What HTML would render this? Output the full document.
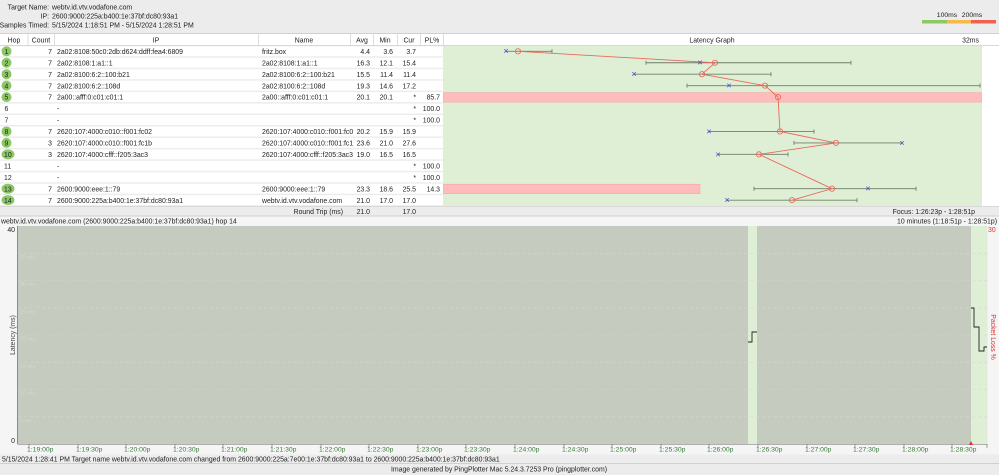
<!DOCTYPE html>
<html><head><meta charset="utf-8"><style>
html,body{margin:0;padding:0;background:#ececec;}
svg{display:block;font-family:"Liberation Sans",sans-serif;}
</style></head><body>
<svg width="999" height="475" viewBox="0 0 999 475" xmlns="http://www.w3.org/2000/svg" font-size="6.9" fill="#222">
<rect width="999" height="475" fill="#ececec"/>
<!-- header -->
<text x="49" y="9.5" text-anchor="end">Target Name:</text><text x="52" y="9.5">webtv.id.vtv.vodafone.com</text>
<text x="49" y="18.5" text-anchor="end">IP:</text><text x="52" y="18.5">2600:9000:225a:b400:1e:37bf:dc80:93a1</text>
<text x="49" y="27.5" text-anchor="end">Samples Timed:</text><text x="52" y="27.5">5/15/2024 1:18:51 PM - 5/15/2024 1:28:51 PM</text>
<text x="947" y="17" text-anchor="middle" font-size="6.8">100ms</text><text x="972" y="17" text-anchor="middle" font-size="6.8">200ms</text>
<rect x="922" y="20" width="25" height="3.5" fill="#8cc866"/><rect x="947" y="20" width="24" height="3.5" fill="#f6b94a"/><rect x="971" y="20" width="25" height="3.5" fill="#f0614f"/>
<line x1="0" y1="33.5" x2="999" y2="33.5" stroke="#d0d0d0"/>
<!-- table header -->
<rect x="0" y="34" width="999" height="11" fill="#fff"/>
<g stroke="#ddd"><line x1="28" y1="34" x2="28" y2="45"/><line x1="54.5" y1="34" x2="54.5" y2="45"/><line x1="258.5" y1="34" x2="258.5" y2="45"/><line x1="350.5" y1="34" x2="350.5" y2="45"/><line x1="373.5" y1="34" x2="373.5" y2="45"/><line x1="397.5" y1="34" x2="397.5" y2="45"/><line x1="420.5" y1="34" x2="420.5" y2="45"/><line x1="443.5" y1="34" x2="443.5" y2="45"/></g>
<g text-anchor="middle"><text x="14" y="42.5">Hop</text><text x="41" y="42.5">Count</text><text x="156" y="42.5">IP</text><text x="304" y="42.5">Name</text><text x="362" y="42.5">Avg</text><text x="385" y="42.5">Min</text><text x="409" y="42.5">Cur</text><text x="432" y="42.5">PL%</text><text x="712" y="42.5">Latency Graph</text></g>
<text x="979" y="42.5" text-anchor="end">32ms</text>
<line x1="0" y1="45.5" x2="999" y2="45.5" stroke="#d8d8d8"/>
<!-- rows background -->
<g fill="#fff">
<rect x="0" y="46.3" width="443" height="10"/><rect x="0" y="57.75" width="443" height="10"/><rect x="0" y="69.2" width="443" height="10"/><rect x="0" y="80.65" width="443" height="10"/><rect x="0" y="92.1" width="443" height="10"/><rect x="0" y="103.55" width="443" height="10"/><rect x="0" y="115" width="443" height="10"/><rect x="0" y="126.45" width="443" height="10"/><rect x="0" y="137.9" width="443" height="10"/><rect x="0" y="149.35" width="443" height="10"/><rect x="0" y="160.8" width="443" height="10"/><rect x="0" y="172.25" width="443" height="10"/><rect x="0" y="183.7" width="443" height="10"/><rect x="0" y="195.15" width="443" height="10"/>
<rect x="982" y="46" width="17" height="160"/>
</g>
<rect x="443" y="46" width="539" height="160" fill="#dfefd6"/>
<rect x="443.5" y="92.6" width="538" height="9.5" fill="#ffbcbc" stroke="#f2a0a0" stroke-width="0.5"/>
<rect x="443.5" y="184.2" width="256.5" height="9.5" fill="#ffbcbc" stroke="#f2a0a0" stroke-width="0.5"/>
<!-- hop circles -->
<g fill="#8cc866"><circle cx="6.5" cy="51.3" r="5"/><circle cx="6.5" cy="62.75" r="5"/><circle cx="6.5" cy="74.2" r="5"/><circle cx="6.5" cy="85.65" r="5"/><circle cx="6.5" cy="97.1" r="5"/><circle cx="6.5" cy="131.45" r="5"/><circle cx="6.5" cy="142.9" r="5"/><ellipse cx="8" cy="154.35" rx="6.5" ry="5"/><ellipse cx="8" cy="188.7" rx="6.5" ry="5"/><ellipse cx="8" cy="200.15" rx="6.5" ry="5"/></g>
<g>
<text x="4.5" y="53.9">1</text><text x="4.5" y="65.35">2</text><text x="4.5" y="76.8">3</text><text x="4.5" y="88.25">4</text><text x="4.5" y="99.7">5</text><text x="4.5" y="111.15">6</text><text x="4.5" y="122.6">7</text><text x="4.5" y="134.05">8</text><text x="4.5" y="145.5">9</text><text x="4" y="156.95">10</text><text x="4" y="168.4">11</text><text x="4" y="179.85">12</text><text x="4" y="191.3">13</text><text x="4" y="202.75">14</text>
</g>
<g text-anchor="end">
<text x="52" y="53.9">7</text><text x="52" y="65.35">7</text><text x="52" y="76.8">7</text><text x="52" y="88.25">7</text><text x="52" y="99.7">7</text><text x="52" y="134.05">7</text><text x="52" y="145.5">3</text><text x="52" y="156.95">3</text><text x="52" y="191.3">7</text><text x="52" y="202.75">7</text>
</g>
<g>
<text x="57" y="53.9">2a02:8108:50c0:2db:d624:ddff:fea4:6809</text>
<text x="57" y="65.35">2a02:8108:1:a1::1</text>
<text x="57" y="76.8">2a02:8100:6:2::100:b21</text>
<text x="57" y="88.25">2a02:8100:6:2::108d</text>
<text x="57" y="99.7">2a00::afff:0:c01:c01:1</text>
<text x="57" y="111.15">-</text><text x="57" y="122.6">-</text>
<text x="57" y="134.05">2620:107:4000:c010::f001:fc02</text>
<text x="57" y="145.5">2620:107:4000:c010::f001:fc1b</text>
<text x="57" y="156.95">2620:107:4000:cfff::f205:3ac3</text>
<text x="57" y="168.4">-</text><text x="57" y="179.85">-</text>
<text x="57" y="191.3">2600:9000:eee:1::79</text>
<text x="57" y="202.75">2600:9000:225a:b400:1e:37bf:dc80:93a1</text>
<text x="262" y="53.9">fritz.box</text>
<text x="262" y="65.35">2a02:8108:1:a1::1</text>
<text x="262" y="76.8">2a02:8100:6:2::100:b21</text>
<text x="262" y="88.25">2a02:8100:6:2::108d</text>
<text x="262" y="99.7">2a00::afff:0:c01:c01:1</text>
<text x="262" y="134.05">2620:107:4000:c010::f001:fc0</text>
<text x="262" y="145.5">2620:107:4000:c010::f001:fc1</text>
<text x="262" y="156.95">2620:107:4000:cfff::f205:3ac3</text>
<text x="262" y="191.3">2600:9000:eee:1::79</text>
<text x="262" y="202.75">webtv.id.vtv.vodafone.com</text>
</g>
<g text-anchor="end">
<text x="370" y="53.9">4.4</text><text x="393" y="53.9">3.6</text><text x="416" y="53.9">3.7</text>
<text x="370" y="65.35">16.3</text><text x="393" y="65.35">12.1</text><text x="416" y="65.35">15.4</text>
<text x="370" y="76.8">15.5</text><text x="393" y="76.8">11.4</text><text x="416" y="76.8">11.4</text>
<text x="370" y="88.25">19.3</text><text x="393" y="88.25">14.6</text><text x="416" y="88.25">17.2</text>
<text x="370" y="99.7">20.1</text><text x="393" y="99.7">20.1</text><text x="416" y="99.7">*</text><text x="440" y="99.7">85.7</text>
<text x="416" y="111.15">*</text><text x="440" y="111.15">100.0</text>
<text x="416" y="122.6">*</text><text x="440" y="122.6">100.0</text>
<text x="370" y="134.05">20.2</text><text x="393" y="134.05">15.9</text><text x="416" y="134.05">15.9</text>
<text x="370" y="145.5">23.6</text><text x="393" y="145.5">21.0</text><text x="416" y="145.5">27.6</text>
<text x="370" y="156.95">19.0</text><text x="393" y="156.95">16.5</text><text x="416" y="156.95">16.5</text>
<text x="416" y="168.4">*</text><text x="440" y="168.4">100.0</text>
<text x="416" y="179.85">*</text><text x="440" y="179.85">100.0</text>
<text x="370" y="191.3">23.3</text><text x="393" y="191.3">18.6</text><text x="416" y="191.3">25.5</text><text x="440" y="191.3">14.3</text>
<text x="370" y="202.75">21.0</text><text x="393" y="202.75">17.0</text><text x="416" y="202.75">17.0</text>
<text x="343" y="214.2">Round Trip (ms)</text><text x="370" y="214.2">21.0</text><text x="416" y="214.2">17.0</text>
</g>
<text x="975" y="214.2" text-anchor="end">Focus: 1:26:23p - 1:28:51p</text>
<!-- whiskers -->
<g stroke="#6f7f6a" stroke-width="0.9">
<line x1="506" y1="51.3" x2="552" y2="51.3"/><line x1="552" y1="49.3" x2="552" y2="53.3"/>
<line x1="646" y1="62.75" x2="851" y2="62.75"/><line x1="646" y1="60.75" x2="646" y2="64.75"/><line x1="851" y1="60.75" x2="851" y2="64.75"/>
<line x1="634" y1="74.2" x2="771" y2="74.2"/><line x1="771" y1="72.2" x2="771" y2="76.2"/>
<line x1="687" y1="85.65" x2="980" y2="85.65"/><line x1="687" y1="83.65" x2="687" y2="87.65"/><line x1="980" y1="83.65" x2="980" y2="87.65"/>
<line x1="709" y1="131.45" x2="814" y2="131.45"/><line x1="814" y1="129.45" x2="814" y2="133.45"/>
<line x1="794" y1="142.9" x2="902" y2="142.9"/><line x1="794" y1="140.9" x2="794" y2="144.9"/>
<line x1="718" y1="154.35" x2="788" y2="154.35"/><line x1="788" y1="152.35" x2="788" y2="156.35"/>
<line x1="754" y1="188.7" x2="916" y2="188.7"/><line x1="754" y1="186.7" x2="754" y2="190.7"/><line x1="916" y1="186.7" x2="916" y2="190.7"/>
<line x1="727" y1="200.15" x2="857" y2="200.15"/><line x1="857" y1="198.15" x2="857" y2="202.15"/>
</g>
<polyline fill="none" stroke="#ea6a5c" stroke-width="0.9" points="518,51.3 715,62.75 702,74.2 765,85.65 778,97.1 780,131.45 836,142.9 759,154.35 832,188.7 792,200.15"/>
<g fill="none" stroke="#ea6a5c" stroke-width="0.9">
<circle cx="518" cy="51.3" r="2.6"/><circle cx="715" cy="62.75" r="2.6"/><circle cx="702" cy="74.2" r="2.6"/><circle cx="765" cy="85.65" r="2.6"/><circle cx="778" cy="97.1" r="2.6"/><circle cx="780" cy="131.45" r="2.6"/><circle cx="836" cy="142.9" r="2.6"/><circle cx="759" cy="154.35" r="2.6"/><circle cx="832" cy="188.7" r="2.6"/><circle cx="792" cy="200.15" r="2.6"/>
</g>
<g fill="#3b3bd6" font-size="9" text-anchor="middle">
<text x="506" y="54.2">×</text><text x="700" y="65.7">×</text><text x="634" y="77.2">×</text><text x="729" y="88.6">×</text><text x="709" y="134.4">×</text><text x="902" y="145.8">×</text><text x="718" y="157.3">×</text><text x="868" y="191.6">×</text><text x="727" y="203.1">×</text>
</g>
<line x1="0" y1="206.5" x2="999" y2="206.5" stroke="#d8d8d8"/>
<line x1="0" y1="216" x2="999" y2="216" stroke="#d0d0d0"/>
<!-- bottom chart -->
<rect x="0" y="216.5" width="999" height="238" fill="#f5f5f5"/>
<text x="1" y="223.5">webtv.id.vtv.vodafone.com (2600:9000:225a:b400:1e:37bf:dc80:93a1) hop 14</text>
<text x="997" y="223.5" text-anchor="end">10 minutes (1:18:51p - 1:28:51p)</text>
<rect x="17.5" y="226" width="970" height="218" fill="#c5cbbf"/>
<rect x="748" y="226" width="9" height="218" fill="#dfefd6"/>
<rect x="971" y="226" width="16.5" height="218" fill="#dfefd6"/>
<g stroke="#d3d8ce" stroke-width="0.6" stroke-dasharray="3,3">
<line x1="18" y1="253.3" x2="987" y2="253.3"/><line x1="18" y1="280.5" x2="987" y2="280.5"/><line x1="18" y1="307.8" x2="987" y2="307.8"/><line x1="18" y1="335" x2="987" y2="335"/><line x1="18" y1="362.3" x2="987" y2="362.3"/><line x1="18" y1="389.5" x2="987" y2="389.5"/><line x1="18" y1="416.8" x2="987" y2="416.8"/>
</g>
<g fill="#d4d8d0" font-size="5.5"><text x="20" y="259">35 ms</text><text x="20" y="286">30 ms</text><text x="20" y="313.5">25 ms</text><text x="20" y="340.5">20 ms</text><text x="20" y="368">15 ms</text><text x="20" y="395">10 ms</text><text x="20" y="422.5">5 ms</text></g>
<line x1="17.5" y1="226" x2="17.5" y2="444" stroke="#777" stroke-width="0.8"/>
<line x1="17.5" y1="444.5" x2="987.5" y2="444.5" stroke="#999" stroke-width="0.8"/>
<text x="15" y="232" text-anchor="end">40</text><text x="15" y="443" text-anchor="end">0</text>
<text transform="translate(15,335) rotate(-90)" text-anchor="middle" fill="#444">Latency (ms)</text>
<text x="988" y="232" fill="#e03030">30</text>
<text transform="translate(991,337) rotate(90)" text-anchor="middle" fill="#e03030">Packet Loss %</text>
<polyline fill="none" stroke="#222" stroke-width="0.9" points="748,342 752,342 752,332 757,332"/>
<polyline fill="none" stroke="#222" stroke-width="0.9" points="971,308 974,308 974,327 979,327 979,351 984,351 984,347 987,347"/>
<path d="M971,441 l-2,4 h4z" fill="#e03030"/>
<g stroke="#666" stroke-width="0.6">
<line x1="29" y1="444" x2="29" y2="448"/><line x1="78" y1="444" x2="78" y2="448"/><line x1="126" y1="444" x2="126" y2="448"/><line x1="175" y1="444" x2="175" y2="448"/><line x1="223" y1="444" x2="223" y2="448"/><line x1="272" y1="444" x2="272" y2="448"/><line x1="321" y1="444" x2="321" y2="448"/><line x1="369" y1="444" x2="369" y2="448"/><line x1="418" y1="444" x2="418" y2="448"/><line x1="466" y1="444" x2="466" y2="448"/><line x1="515" y1="444" x2="515" y2="448"/><line x1="564" y1="444" x2="564" y2="448"/><line x1="612" y1="444" x2="612" y2="448"/><line x1="661" y1="444" x2="661" y2="448"/><line x1="709" y1="444" x2="709" y2="448"/><line x1="758" y1="444" x2="758" y2="448"/><line x1="807" y1="444" x2="807" y2="448"/><line x1="855" y1="444" x2="855" y2="448"/><line x1="904" y1="444" x2="904" y2="448"/><line x1="952" y1="444" x2="952" y2="448"/><line x1="987" y1="444" x2="987" y2="448"/>
</g>
<g fill="#3c7a3c" font-size="6.8">
<text x="27" y="451.5">1:19:00p</text><text x="76" y="451.5">1:19:30p</text><text x="124" y="451.5">1:20:00p</text><text x="173" y="451.5">1:20:30p</text><text x="221" y="451.5">1:21:00p</text><text x="270" y="451.5">1:21:30p</text><text x="319" y="451.5">1:22:00p</text><text x="367" y="451.5">1:22:30p</text><text x="416" y="451.5">1:23:00p</text><text x="464" y="451.5">1:23:30p</text><text x="513" y="451.5">1:24:00p</text><text x="562" y="451.5">1:24:30p</text><text x="610" y="451.5">1:25:00p</text><text x="659" y="451.5">1:25:30p</text><text x="707" y="451.5">1:26:00p</text><text x="756" y="451.5">1:26:30p</text><text x="805" y="451.5">1:27:00p</text><text x="853" y="451.5">1:27:30p</text><text x="902" y="451.5">1:28:00p</text><text x="950" y="451.5">1:28:30p</text>
</g>
<text x="2" y="461.5" fill="#222">5/15/2024 1:28:41 PM Target name webtv.id.vtv.vodafone.com changed from 2600:9000:225a:7e00:1e:37bf:dc80:93a1 to 2600:9000:225a:b400:1e:37bf:dc80:93a1</text>
<rect x="0" y="463.5" width="999" height="11.5" fill="#ececec"/>
<line x1="0" y1="463.5" x2="999" y2="463.5" stroke="#d0d0d0"/>
<text x="499" y="471.5" text-anchor="middle">Image generated by PingPlotter Mac 5.24.3.7253 Pro (pingplotter.com)</text>
</svg>
</body></html>
